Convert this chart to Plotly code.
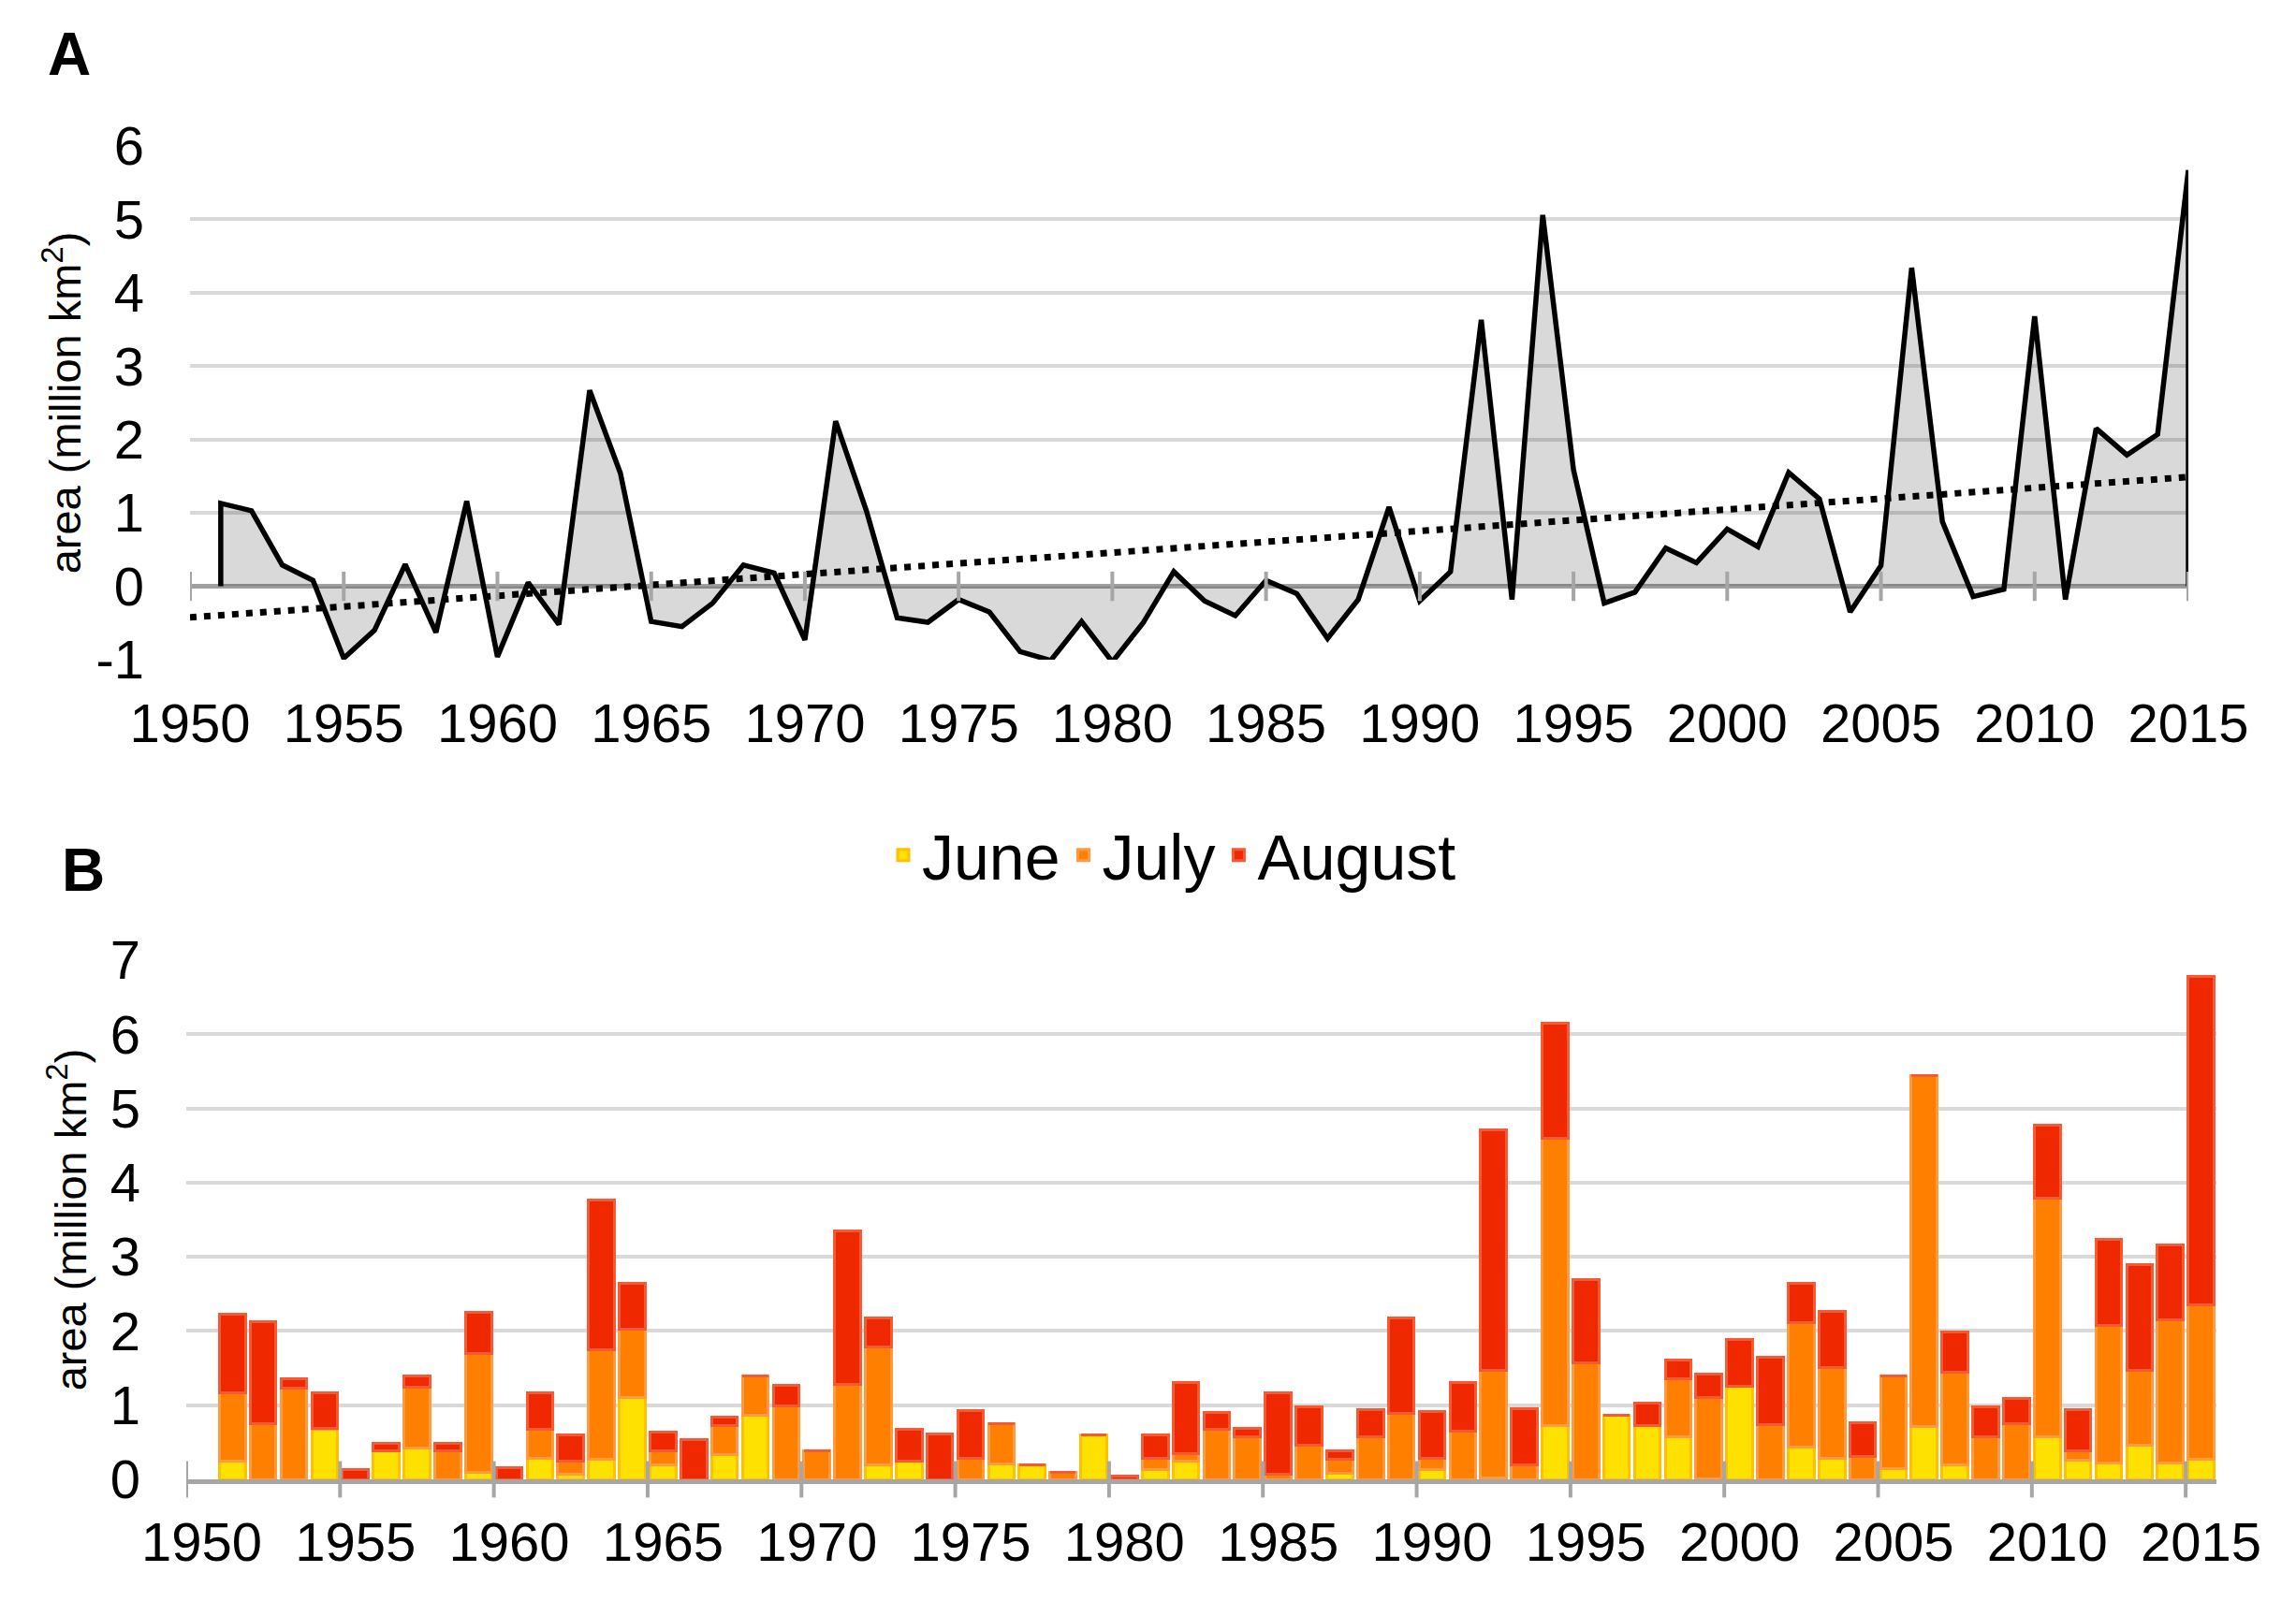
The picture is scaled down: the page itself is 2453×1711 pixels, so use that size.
import numpy as np
import plotly.graph_objects as go

# Panel A: anomaly of total summer area (million km2)
years = list(range(1951, 2016))
anomaly = [
    1.13, 1.03, 0.29, 0.08, -0.98, -0.60, 0.30, -0.63, 1.16, -0.96,
    0.05, -0.52, 2.67, 1.54, -0.48, -0.55, -0.23, 0.29, 0.18, -0.73,
    2.25, 1.03, -0.43, -0.49, -0.18, -0.35, -0.89, -1.01, -0.48, -1.03,
    -0.50, 0.20, -0.20, -0.40, 0.08, -0.10, -0.71, -0.18, 1.08, -0.20,
    0.20, 3.63, -0.18, 5.06, 1.59, -0.23, -0.08, 0.52, 0.32, 0.78,
    0.54, 1.55, 1.19, -0.35, 0.28, 4.34, 0.88, -0.14, -0.04, 3.68,
    -0.18, 2.15, 1.79, 2.07, 5.67,
]

# Panel B: monthly areas (million km2), stacked
june = [
    0.24, 0.00, 0.00, 0.67, 0.00, 0.39, 0.42, 0.00, 0.09, 0.00,
    0.29, 0.07, 0.27, 1.10, 0.19, 0.00, 0.34, 0.87, 0.00, 0.00,
    0.00, 0.19, 0.25, 0.00, 0.00, 0.21, 0.19, 0.00, 0.60, 0.00,
    0.13, 0.25, 0.00, 0.00, 0.00, 0.00, 0.08, 0.00, 0.00, 0.13,
    0.00, 0.02, 0.00, 0.72, 0.00, 0.87, 0.72, 0.58, 0.01, 1.25,
    0.00, 0.44, 0.28, 0.00, 0.15, 0.71, 0.20, 0.00, 0.00, 0.57,
    0.26, 0.22, 0.46, 0.22, 0.27,
]
july = [
    0.93, 0.75, 1.23, 0.02, 0.00, 0.00, 0.82, 0.39, 1.61, 0.00,
    0.39, 0.17, 1.48, 0.93, 0.20, 0.00, 0.38, 0.52, 0.99, 0.38,
    1.28, 1.59, 0.00, 0.00, 0.28, 0.54, 0.00, 0.09, 0.00, 0.00,
    0.16, 0.10, 0.68, 0.57, 0.07, 0.46, 0.19, 0.57, 0.89, 0.16,
    0.65, 1.45, 0.19, 3.88, 1.57, 0.00, 0.00, 0.77, 1.09, 0.00,
    0.74, 1.67, 1.23, 0.31, 1.24, 4.73, 1.25, 0.57, 0.75, 3.22,
    0.13, 1.85, 1.01, 1.93, 2.08,
]
august = [
    1.05, 1.37, 0.13, 0.48, 0.13, 0.10, 0.15, 0.10, 0.55, 0.16,
    0.49, 0.36, 2.01, 0.61, 0.25, 0.54, 0.12, 0.00, 0.28, 0.00,
    2.07, 0.39, 0.42, 0.61, 0.65, 0.00, 0.00, 0.00, 0.00, 0.05,
    0.31, 0.95, 0.22, 0.12, 1.10, 0.52, 0.11, 0.37, 1.29, 0.62,
    0.66, 3.24, 0.76, 1.55, 1.12, 0.00, 0.31, 0.26, 0.32, 0.63,
    0.90, 0.53, 0.75, 0.45, 0.00, 0.00, 0.54, 0.41, 0.34, 0.98,
    0.55, 1.17, 1.43, 1.01, 4.43,
]

tick_years = list(range(1950, 2016, 5))
a_ticks = list(range(-1, 7))
a_ticktext = [str(v) for v in a_ticks]  # plain hyphen for "-1"

FONT = "Liberation Sans Narrow, Arial Narrow, Liberation Sans, Arial, sans-serif"
GRID = "#D9D9D9"
AXIS = "#A6A6A6"

# page body keeps an 8px margin, so the figure is a bit smaller than the window
PAGE = 8
W, H = 2453 - 2 * PAGE, 1711 - 2 * PAGE


def px(x):
    return (x - PAGE) / W


def py(y):
    return 1 - (y - PAGE) / H


fig = go.Figure()

# area with vertical edges down to zero at the first and last year
xa = [years[0]] + years + [years[-1]]
ya = [0] + anomaly + [0]
fig.add_trace(go.Scatter(
    x=xa, y=ya, mode="lines", fill="tozeroy",
    fillcolor="rgba(0,0,0,0.15)",
    line=dict(color="black", width=5.5),
    showlegend=False, hoverinfo="skip",
    xaxis="x", yaxis="y",
))

# linear trend (least squares), drawn over the whole axis range
slope, icept = np.polyfit(years, anomaly, 1)
tx = [tick_years[0], years[-1]]
fig.add_trace(go.Scatter(
    x=tx, y=[slope * t + icept for t in tx], mode="lines",
    line=dict(color="black", width=7, dash="7px,8px"),
    showlegend=False, hoverinfo="skip",
    xaxis="x", yaxis="y",
))

months = [
    ("June", june, "#FFE100", "#FFC000"),
    ("July", july, "#FF8000", "#FF9A40"),
    ("August", august, "#F02800", "#F45A35"),
]
for name, vals, col, edge in months:
    fig.add_trace(go.Bar(
        x=years, y=vals, name=name, width=0.84,
        marker=dict(color=col, line=dict(color=edge, width=3)),
        xaxis="x2", yaxis="y2",
    ))

shapes = []
for t in tick_years:
    shapes.append(dict(type="line", xref="x", yref="y", x0=t, x1=t,
                       y0=-0.2, y1=0.2, layer="above",
                       line=dict(color=AXIS, width=4)))
    shapes.append(dict(type="line", xref="x2", yref="y2 domain",
                       x0=t - 0.5, x1=t - 0.5, y0=-0.035, y1=0.035,
                       layer="above", line=dict(color=AXIS, width=4)))

tickfont = dict(family=FONT, size=58, color="black")
titlefont = dict(family=FONT, size=47, color="black")

fig.update_layout(
    width=W, height=H,
    margin=dict(l=0, r=0, t=0, b=0, autoexpand=False),
    paper_bgcolor="white", plot_bgcolor="white",
    barmode="stack",
    shapes=shapes,
    xaxis=dict(
        domain=[px(203), px(2338)], anchor="y", automargin=False,
        range=[1950, 2015], tickvals=tick_years,
        showgrid=False, zeroline=False, showline=False, ticks="",
        tickfont=tickfont, ticklabelstandoff=29,
    ),
    yaxis=dict(
        domain=[py(705), py(156)], anchor="x", automargin=False,
        range=[-1, 6], tickvals=a_ticks, ticktext=a_ticktext,
        gridcolor=GRID, gridwidth=4,
        zeroline=True, zerolinecolor="#A0A0A0", zerolinewidth=5,
        showline=False, ticks="", tickfont=tickfont, ticklabelstandoff=48,
        title=dict(text="area (million km<sup>2</sup>)", font=titlefont, standoff=0),
    ),
    xaxis2=dict(
        domain=[px(199), px(2368)], anchor="y2", automargin=False,
        range=[1949.5, 2015.5], tickvals=tick_years,
        showgrid=False, zeroline=False,
        showline=True, linecolor=AXIS, linewidth=5, ticks="",
        tickfont=tickfont, ticklabelstandoff=12,
    ),
    yaxis2=dict(
        domain=[py(1581), py(1026)], anchor="x2", automargin=False,
        range=[0, 7], dtick=1,
        gridcolor=GRID, gridwidth=4, zeroline=False, showline=False,
        ticks="", tickfont=tickfont, ticklabelstandoff=48,
        title=dict(text="area (million km<sup>2</sup>)", font=titlefont, standoff=10),
    ),
    legend=dict(
        orientation="h", x=px(1253), y=py(914),
        xanchor="center", yanchor="middle",
        font=dict(family=FONT, size=68, color="black"),
        itemwidth=30, bgcolor="rgba(0,0,0,0)", traceorder="normal",
    ),
    annotations=[
        dict(text="<b>A</b>", x=px(74), y=py(58), xref="paper", yref="paper",
             xanchor="center", yanchor="middle", showarrow=False,
             font=dict(family=FONT, size=64, color="black")),
        dict(text="<b>B</b>", x=px(89), y=py(930), xref="paper", yref="paper",
             xanchor="center", yanchor="middle", showarrow=False,
             font=dict(family=FONT, size=64, color="black")),
    ],
)

fig.write_html("out.html")
